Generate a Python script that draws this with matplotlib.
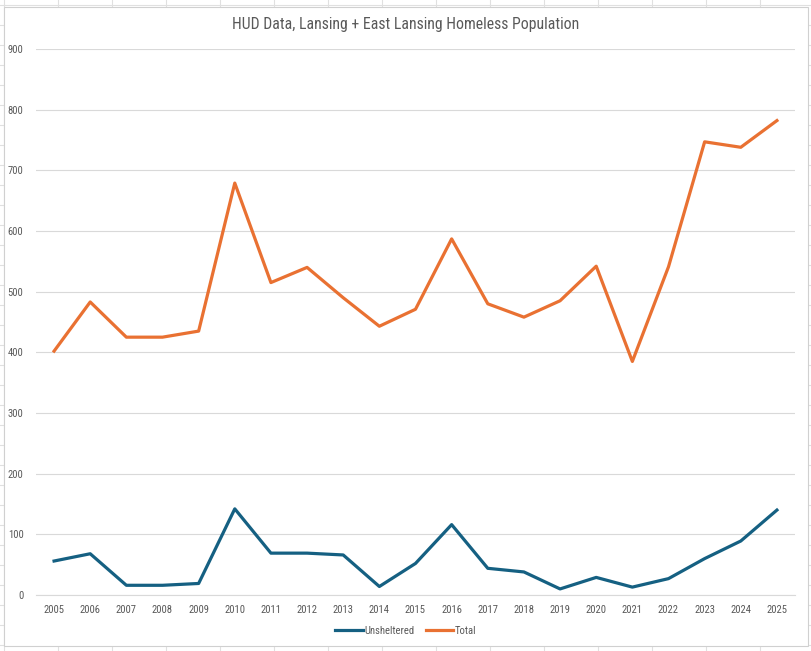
import matplotlib.pyplot as plt
from matplotlib import font_manager
from matplotlib.lines import Line2D
from matplotlib.patches import Rectangle

years = [str(y) for y in range(2005, 2026)]
unsheltered = [56, 68, 16, 16, 19, 142, 69, 69, 66, 14, 52,
               116, 44, 38, 10, 29, 13, 27, 60, 89, 140]
total = [402, 483, 425, 425, 435, 679, 515, 540, 490, 443, 471,
         587, 480, 458, 485, 542, 385, 541, 747, 738, 782]
y_ticks = list(range(0, 1000, 100))

# narrow font like Excel's Aptos Narrow, if there is one
names = {f.name for f in font_manager.fontManager.ttflist}
narrow = [n for n in ['Liberation Sans Narrow', 'Roboto Condensed', 'Open Sans Condensed']
          if n in names]
if narrow:
    plt.rcParams['font.family'] = [narrow[0], 'DejaVu Sans']
else:
    plt.rcParams['font.family'] = ['DejaVu Sans']
    plt.rcParams['font.stretch'] = 'condensed'

text_gray = '#595959'
grid_gray = '#D9D9D9'
W, H = 812, 651

fig = plt.figure(figsize=(W / 100, H / 100), dpi=100)

# spreadsheet cells behind the chart
for xp in range(4, W, 54):
    fig.add_artist(Line2D([xp / W, xp / W], [0, 1], color='#E0E0E0', lw=0.8, zorder=-3))
for yp in range(5, H, 20):
    fig.add_artist(Line2D([0, 1], [1 - yp / H, 1 - yp / H], color='#E0E0E0', lw=0.8,
                          zorder=-3))
fig.add_artist(Rectangle((4 / W, 1 - 646 / H), 804 / W, 639 / H,
                         facecolor='white', edgecolor='#D0D0D0', lw=0.8, zorder=-2))

ax = fig.add_axes([36 / W, 1 - 595 / H, 759 / W, 546 / H])
ax.set_facecolor('none')
x = list(range(len(years)))
ax.plot(x, unsheltered, color='#156082', lw=2.3, label='Unsheltered')
ax.plot(x, total, color='#E97132', lw=2.3, label='Total')

ax.set_xlim(-0.5, len(years) - 0.5)
ax.set_ylim(0, 900)
ax.set_yticks(y_ticks)
ax.set_xticks(x)
ax.set_xticklabels(years)
ax.grid(axis='y', color=grid_gray, lw=0.8)
ax.set_axisbelow(True)
for s in ['top', 'right', 'left']:
    ax.spines[s].set_visible(False)
ax.spines['bottom'].set_color(grid_gray)
ax.spines['bottom'].set_linewidth(0.8)
ax.tick_params(length=0, labelsize=7.7, labelcolor=text_gray)
ax.tick_params(axis='y', pad=9)
ax.tick_params(axis='x', pad=7)

fig.text(0.5, 1 - 25 / H, 'HUD Data, Lansing + East Lansing Homeless Population',
         ha='center', va='center', fontsize=11.3, color=text_gray)

fig.legend(loc='center', bbox_to_anchor=(406 / W, 1 - 631 / H), ncol=2,
           frameon=False, fontsize=7.7, labelcolor=text_gray, handlelength=2.6,
           handletextpad=0.15, columnspacing=1.0)

fig.savefig('out.png', dpi=100, facecolor='white')
